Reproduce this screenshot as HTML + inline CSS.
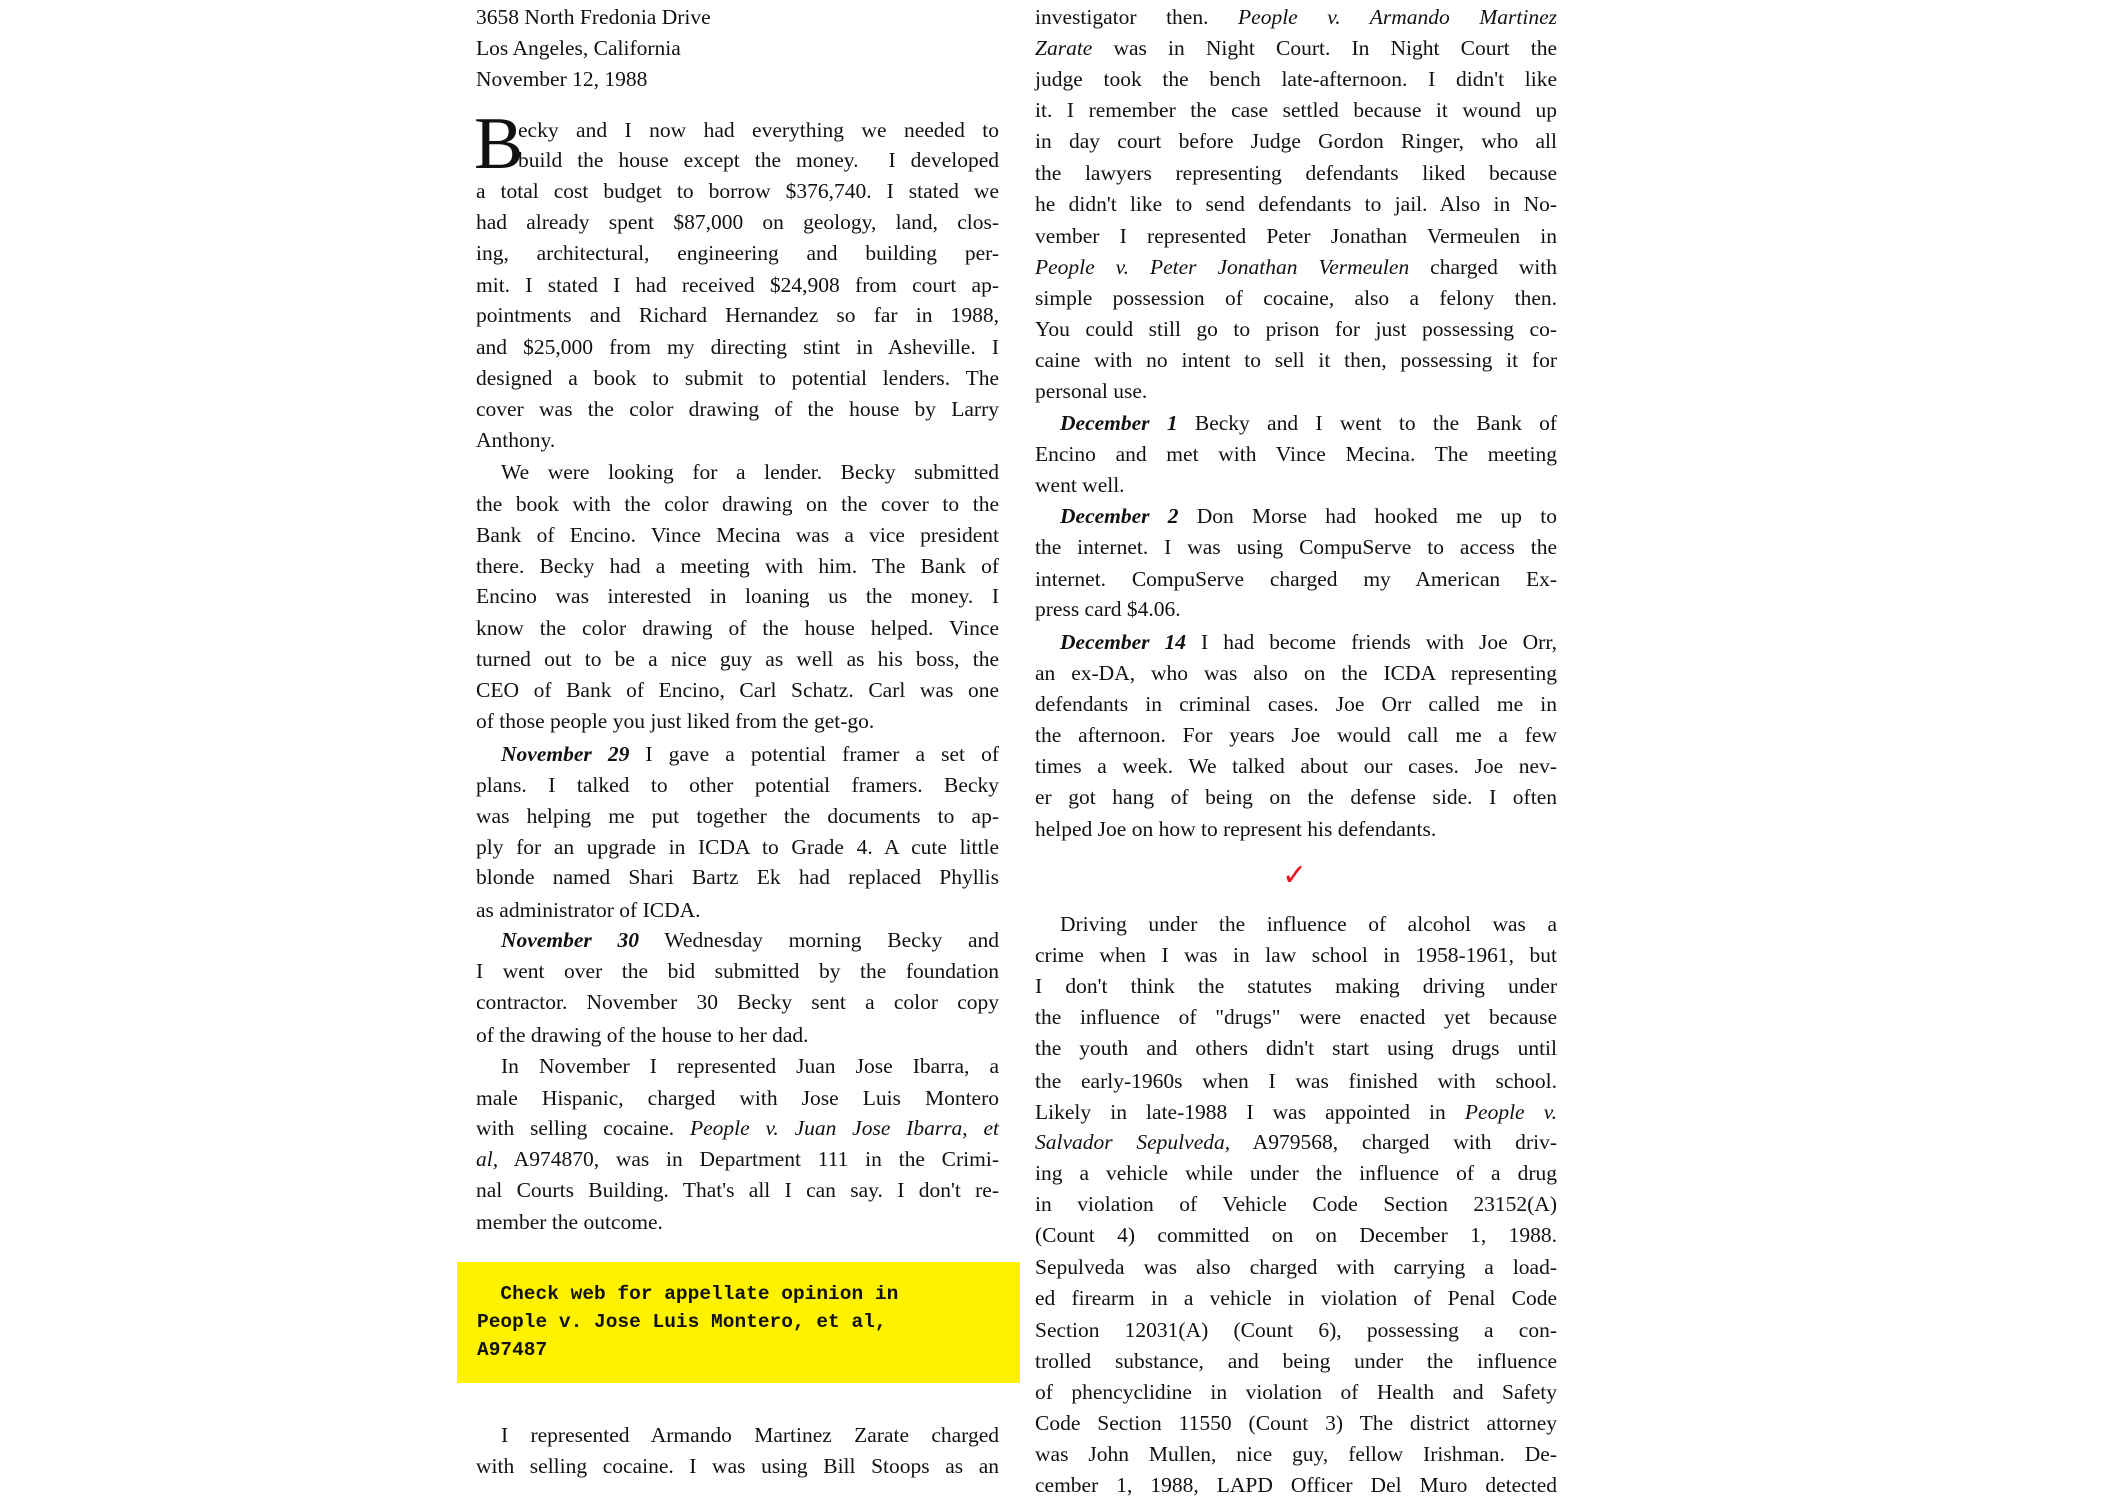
<!DOCTYPE html>
<html><head><meta charset="utf-8"><style>
body{margin:0;width:2106px;height:1507px;background:#fff;position:relative;overflow:hidden;font-family:"Liberation Serif",serif;font-size:21.5px;color:#111}
.l{position:absolute;height:31px;line-height:31px;white-space:nowrap}
.L{left:476px;width:523px}
.R{left:1035px;width:522px}
.j{text-align:justify;text-align-last:justify;white-space:normal}
.i1{padding-left:25px;box-sizing:border-box}
.dc{left:518px;width:481px}
.box{position:absolute;left:457px;top:1262px;width:563px;height:121px;background:#fff200}
.m{position:absolute;left:477px;font-family:"Liberation Mono",monospace;font-weight:bold;font-size:19.5px;line-height:28px;white-space:nowrap}
</style></head><body>
<div class="l L" style="top:2px">3658 North Fredonia Drive</div>
<div class="l L" style="top:33px">Los Angeles, California</div>
<div class="l L" style="top:64px">November 12, 1988</div>
<div style="position:absolute;left:474px;top:107px;font-size:74px;line-height:74px">B</div>
<div class="l dc j" style="top:115px">ecky and I now had everything we needed to</div>
<div class="l dc j" style="top:145px">build the house except the money. &nbsp;I developed</div>
<div class="l L j" style="top:176px">a total cost budget to borrow $376,740. I stated we</div>
<div class="l L j" style="top:207px">had already spent $87,000 on geology, land, clos-</div>
<div class="l L j" style="top:238px">ing, architectural, engineering and building per-</div>
<div class="l L j" style="top:270px">mit. I stated I had received $24,908 from court ap-</div>
<div class="l L j" style="top:300px">pointments and Richard Hernandez so far in 1988,</div>
<div class="l L j" style="top:332px">and $25,000 from my directing stint in Asheville. I</div>
<div class="l L j" style="top:363px">designed a book to submit to potential lenders. The</div>
<div class="l L j" style="top:394px">cover was the color drawing of the house by Larry</div>
<div class="l L" style="top:425px">Anthony.</div>
<div class="l L j i1" style="top:457px">We were looking for a lender. Becky submitted</div>
<div class="l L j" style="top:489px">the book with the color drawing on the cover to the</div>
<div class="l L j" style="top:520px">Bank of Encino. Vince Mecina was a vice president</div>
<div class="l L j" style="top:551px">there. Becky had a meeting with him. The Bank of</div>
<div class="l L j" style="top:581px">Encino was interested in loaning us the money. I</div>
<div class="l L j" style="top:613px">know the color drawing of the house helped. Vince</div>
<div class="l L j" style="top:644px">turned out to be a nice guy as well as his boss, the</div>
<div class="l L j" style="top:675px">CEO of Bank of Encino, Carl Schatz. Carl was one</div>
<div class="l L" style="top:706px">of those people you just liked from the get-go.</div>
<div class="l L j i1" style="top:739px"><b><i>November 29</i></b> I gave a potential framer a set of</div>
<div class="l L j" style="top:770px">plans. I talked to other potential framers. Becky</div>
<div class="l L j" style="top:801px">was helping me put together the documents to ap-</div>
<div class="l L j" style="top:832px">ply for an upgrade in ICDA to Grade 4. A cute little</div>
<div class="l L j" style="top:862px">blonde named Shari Bartz Ek had replaced Phyllis</div>
<div class="l L" style="top:895px">as administrator of ICDA.</div>
<div class="l L j i1" style="top:925px"><b><i>November 30</i></b> Wednesday morning Becky and</div>
<div class="l L j" style="top:956px">I went over the bid submitted by the foundation</div>
<div class="l L j" style="top:987px">contractor. November 30 Becky sent a color copy</div>
<div class="l L" style="top:1020px">of the drawing of the house to her dad.</div>
<div class="l L j i1" style="top:1051px">In November I represented Juan Jose Ibarra, a</div>
<div class="l L j" style="top:1083px">male Hispanic, charged with Jose Luis Montero</div>
<div class="l L j" style="top:1113px">with selling cocaine. <i>People v. Juan Jose Ibarra, et</i></div>
<div class="l L j" style="top:1144px"><i>al,</i> A974870, was in Department 111 in the Crimi-</div>
<div class="l L j" style="top:1175px">nal Courts Building. That's all I can say. I don't re-</div>
<div class="l L" style="top:1207px">member the outcome.</div>
<div class="box"></div>
<div class="m" style="top:1280px">&nbsp;&nbsp;Check web for appellate opinion in</div>
<div class="m" style="top:1308px">People v. Jose Luis Montero, et al,</div>
<div class="m" style="top:1336px">A97487</div>
<div class="l L j i1" style="top:1420px">I represented Armando Martinez Zarate charged</div>
<div class="l L j" style="top:1451px">with selling cocaine. I was using Bill Stoops as an</div>

<div class="l R j" style="top:2px">investigator then. <i>People v. Armando Martinez</i></div>
<div class="l R j" style="top:33px"><i>Zarate</i> was in Night Court. In Night Court the</div>
<div class="l R j" style="top:64px">judge took the bench late-afternoon. I didn't like</div>
<div class="l R j" style="top:95px">it. I remember the case settled because it wound up</div>
<div class="l R j" style="top:126px">in day court before Judge Gordon Ringer, who all</div>
<div class="l R j" style="top:158px">the lawyers representing defendants liked because</div>
<div class="l R j" style="top:189px">he didn't like to send defendants to jail. Also in No-</div>
<div class="l R j" style="top:221px">vember I represented Peter Jonathan Vermeulen in</div>
<div class="l R j" style="top:252px"><i>People v. Peter Jonathan Vermeulen</i> charged with</div>
<div class="l R j" style="top:283px">simple possession of cocaine, also a felony then.</div>
<div class="l R j" style="top:314px">You could still go to prison for just possessing co-</div>
<div class="l R j" style="top:345px">caine with no intent to sell it then, possessing it for</div>
<div class="l R" style="top:376px">personal use.</div>
<div class="l R j i1" style="top:408px"><b><i>December 1</i></b> Becky and I went to the Bank of</div>
<div class="l R j" style="top:439px">Encino and met with Vince Mecina. The meeting</div>
<div class="l R" style="top:470px">went well.</div>
<div class="l R j i1" style="top:501px"><b><i>December 2</i></b> Don Morse had hooked me up to</div>
<div class="l R j" style="top:532px">the internet. I was using CompuServe to access the</div>
<div class="l R j" style="top:564px">internet. CompuServe charged my American Ex-</div>
<div class="l R" style="top:594px">press card $4.06.</div>
<div class="l R j i1" style="top:627px"><b><i>December 14</i></b> I had become friends with Joe Orr,</div>
<div class="l R j" style="top:658px">an ex-DA, who was also on the ICDA representing</div>
<div class="l R j" style="top:689px">defendants in criminal cases. Joe Orr called me in</div>
<div class="l R j" style="top:720px">the afternoon. For years Joe would call me a few</div>
<div class="l R j" style="top:751px">times a week. We talked about our cases. Joe nev-</div>
<div class="l R j" style="top:782px">er got hang of being on the defense side. I often</div>
<div class="l R" style="top:814px">helped Joe on how to represent his defendants.</div>
<div style="position:absolute;left:1282px;top:861px;font-family:'DejaVu Sans',sans-serif;font-size:30px;line-height:30px;color:#e8141e">✓</div>
<div class="l R j i1" style="top:909px">Driving under the influence of alcohol was a</div>
<div class="l R j" style="top:940px">crime when I was in law school in 1958-1961, but</div>
<div class="l R j" style="top:971px">I don't think the statutes making driving under</div>
<div class="l R j" style="top:1002px">the influence of "drugs" were enacted yet because</div>
<div class="l R j" style="top:1033px">the youth and others didn't start using drugs until</div>
<div class="l R j" style="top:1066px">the early-1960s when I was finished with school.</div>
<div class="l R j" style="top:1097px">Likely in late-1988 I was appointed in <i>People v.</i></div>
<div class="l R j" style="top:1127px"><i>Salvador Sepulveda,</i> A979568, charged with driv-</div>
<div class="l R j" style="top:1158px">ing a vehicle while under the influence of a drug</div>
<div class="l R j" style="top:1189px">in violation of Vehicle Code Section 23152(A)</div>
<div class="l R j" style="top:1220px">(Count 4) committed on on December 1, 1988.</div>
<div class="l R j" style="top:1252px">Sepulveda was also charged with carrying a load-</div>
<div class="l R j" style="top:1283px">ed firearm in a vehicle in violation of Penal Code</div>
<div class="l R j" style="top:1315px">Section 12031(A) (Count 6), possessing a con-</div>
<div class="l R j" style="top:1346px">trolled substance, and being under the influence</div>
<div class="l R j" style="top:1377px">of phencyclidine in violation of Health and Safety</div>
<div class="l R j" style="top:1408px">Code Section 11550 (Count 3) The district attorney</div>
<div class="l R j" style="top:1439px">was John Mullen, nice guy, fellow Irishman. De-</div>
<div class="l R j" style="top:1470px">cember 1, 1988, LAPD Officer Del Muro detected</div>
</body></html>
